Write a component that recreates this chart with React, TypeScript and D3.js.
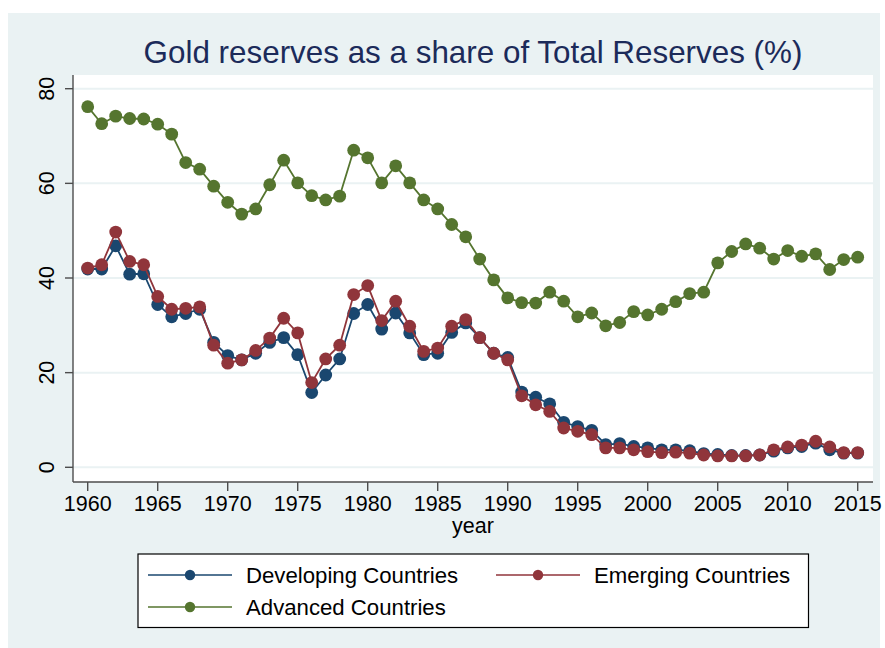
import React from "react";
import * as d3 from "d3";

const years = [
  1960, 1961, 1962, 1963, 1964, 1965, 1966, 1967, 1968, 1969,
  1970, 1971, 1972, 1973, 1974, 1975, 1976, 1977, 1978, 1979,
  1980, 1981, 1982, 1983, 1984, 1985, 1986, 1987, 1988, 1989,
  1990, 1991, 1992, 1993, 1994, 1995, 1996, 1997, 1998, 1999,
  2000, 2001, 2002, 2003, 2004, 2005, 2006, 2007, 2008, 2009,
  2010, 2011, 2012, 2013, 2014, 2015,
];

const developing = [
  41.9, 41.9, 46.8, 40.8, 40.9, 34.4, 31.8, 32.5, 33.4, 26.4,
  23.6, 22.7, 24.1, 26.4, 27.4, 23.8, 15.8, 19.5, 22.9, 32.5,
  34.4, 29.2, 32.6, 28.4, 23.8, 24.1, 28.5, 30.5, 27.4, 24.1,
  23.2, 15.9, 14.8, 13.4, 9.5, 8.6, 7.8, 4.8, 5.0, 4.4,
  4.1, 3.7, 3.7, 3.5, 2.9, 2.7, 2.5, 2.5, 2.6, 3.4,
  4.1, 4.4, 5.1, 3.7, 3.0, 3.0,
];

const emerging = [
  42.1, 42.8, 49.7, 43.5, 42.8, 36.1, 33.4, 33.6, 33.9, 25.8,
  22.0, 22.7, 24.7, 27.3, 31.5, 28.4, 17.9, 22.9, 25.8, 36.5,
  38.4, 31.0, 35.1, 29.8, 24.5, 25.2, 29.8, 31.2, 27.4, 24.1,
  22.7, 15.1, 13.2, 11.8, 8.3, 7.6, 6.9, 4.1, 4.1, 3.7,
  3.3, 3.1, 3.2, 3.0, 2.6, 2.4, 2.4, 2.4, 2.6, 3.7,
  4.3, 4.7, 5.5, 4.3, 3.1, 3.1,
];

const advanced = [
  76.2, 72.6, 74.2, 73.7, 73.6, 72.5, 70.4, 64.4, 63.0, 59.4,
  56.0, 53.5, 54.6, 59.7, 64.9, 60.1, 57.4, 56.5, 57.3, 67.0,
  65.4, 60.1, 63.7, 60.1, 56.5, 54.6, 51.3, 48.7, 44.0, 39.6,
  35.8, 34.8, 34.7, 37.0, 35.1, 31.8, 32.6, 29.9, 30.6, 32.9,
  32.2, 33.4, 35.0, 36.7, 37.0, 43.2, 45.6, 47.2, 46.3, 44.0,
  45.8, 44.6, 45.1, 41.8, 43.9, 44.4,
];

const xTicks = [1960, 1965, 1970, 1975, 1980, 1985, 1990, 1995, 2000, 2005, 2010, 2015];
const yTicks = [0, 20, 40, 60, 80];

const seriesNames = ["Developing Countries", "Emerging Countries", "Advanced Countries"];
const seriesColors = ["#1a476f", "#90353b", "#55752f"];
const seriesValues = [developing, emerging, advanced];

const TITLE = "Gold reserves as a share of Total Reserves (%)";
const X_TITLE = "year";

const FONT = "'Liberation Sans', Arial, Helvetica, sans-serif";

export default function App() {
  const W = 885;
  const H = 648;
  const plot = { left: 73, top: 75, right: 873, bottom: 482 };

  const x = d3.scaleLinear().domain([1960, 2015]).range([87.7, 857.7]);
  const y = d3.scaleLinear().domain([0, 80]).range([467.3, 88.7]);

  const line = d3
    .line<number>()
    .x((_, i) => x(years[i]))
    .y((d) => y(d));

  const legendItems = [
    { idx: 0, lx: 148, ly: 575 },
    { idx: 1, lx: 496, ly: 575 },
    { idx: 2, lx: 148, ly: 607 },
  ];

  return (
    <svg
      width={W}
      height={H}
      viewBox={`0 0 ${W} ${H}`}
      style={{ position: "absolute", left: 0, top: 0, display: "block" }}
      fontFamily={FONT}
    >
      <rect x={0} y={0} width={W} height={H} fill="#ffffff" />
      <rect x={8} y={13} width={872} height={H - 13} fill="#eaf2f3" />
      <rect
        x={plot.left}
        y={plot.top}
        width={plot.right - plot.left}
        height={plot.bottom - plot.top}
        fill="#ffffff"
      />

      {/* grid lines */}
      {yTicks.map((t) => (
        <line
          key={`g${t}`}
          x1={plot.left}
          x2={plot.right}
          y1={y(t)}
          y2={y(t)}
          stroke="#eaf2f3"
          strokeWidth={2}
        />
      ))}

      {/* title */}
      <text
        x={473}
        y={63}
        textAnchor="middle"
        fontSize={31.4}
        fill="#1c2b5a"
      >
        {TITLE}
      </text>

      {/* series */}
      {seriesValues.map((vals, si) => (
        <g key={`s${si}`}>
          <path
            d={line(vals) || ""}
            fill="none"
            stroke={seriesColors[si]}
            strokeWidth={1.8}
          />
          {vals.map((v, i) => (
            <circle
              key={i}
              cx={x(years[i])}
              cy={y(v)}
              r={6.4}
              fill={seriesColors[si]}
            />
          ))}
        </g>
      ))}

      {/* axes */}
      <line x1={plot.left} x2={plot.left} y1={plot.top} y2={plot.bottom} stroke="#4d4d4d" strokeWidth={1.4} />
      <line x1={plot.left} x2={plot.right} y1={plot.bottom} y2={plot.bottom} stroke="#4d4d4d" strokeWidth={1.4} />

      {yTicks.map((t) => (
        <g key={`yt${t}`}>
          <line x1={plot.left - 8} x2={plot.left} y1={y(t)} y2={y(t)} stroke="#4d4d4d" strokeWidth={1.4} />
          <text
            transform={`translate(53.5, ${y(t)}) rotate(-90)`}
            textAnchor="middle"
            fontSize={21.5}
            fill="#000"
          >
            {t}
          </text>
        </g>
      ))}

      {xTicks.map((t) => (
        <g key={`xt${t}`}>
          <line x1={x(t)} x2={x(t)} y1={plot.bottom} y2={plot.bottom + 9} stroke="#4d4d4d" strokeWidth={1.4} />
          <text x={x(t)} y={511} textAnchor="middle" fontSize={21.5} fill="#000">
            {t}
          </text>
        </g>
      ))}

      <text x={473} y={533} textAnchor="middle" fontSize={21.5} fill="#000">
        {X_TITLE}
      </text>

      {/* legend */}
      <rect x={138} y={554} width={670.5} height={73.5} fill="#ffffff" stroke="#000" strokeWidth={1.2} />
      {legendItems.map(({ idx, lx, ly }) => (
        <g key={`l${idx}`}>
          <line x1={lx} x2={lx + 84} y1={ly} y2={ly} stroke={seriesColors[idx]} strokeWidth={1.5} />
          <circle cx={lx + 42} cy={ly} r={5.2} fill={seriesColors[idx]} />
          <text x={lx + 98} y={ly + 8} fontSize={22.2} fill="#000">
            {seriesNames[idx]}
          </text>
        </g>
      ))}
    </svg>
  );
}
